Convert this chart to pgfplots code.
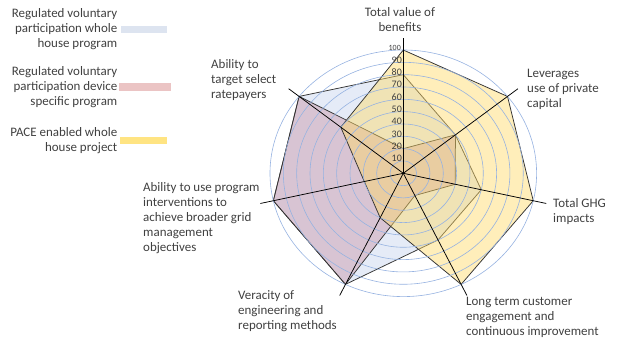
\documentclass[border=0pt]{standalone}
\usepackage{fontspec}
\setmainfont{Carlito}
\usepackage{pgfplots}
\usepackage{pgfplotstable}
\pgfplotsset{compat=1.18}
\definecolor{bluefill}{RGB}{180,199,231}
\definecolor{redfill}{RGB}{202,150,168}
\definecolor{yelfill}{RGB}{255,217,102}
\definecolor{gridc}{RGB}{150,178,225}
\definecolor{txt}{RGB}{64,64,64}
\definecolor{legblue}{RGB}{221,228,240}
\definecolor{legred}{RGB}{235,196,196}
\definecolor{legyel}{RGB}{255,228,130}
% k = spoke index clockwise from top
\pgfplotstableread{
k blue red pace
0 80 20 100
1 50 50 100
2 60 40 100
3 60 20 100
4 100 100 40
5 100 100 30
6 100 100 60
7 80 20 100
}\radardata
\newcommand{\cx}{403.3}
\newcommand{\cy}{172.7}
\begin{document}
\begin{tikzpicture}
\useasboundingbox (0,0) rectangle (619bp,346bp);
\begin{axis}[x=1bp,y=1bp,xmin=0,xmax=619,ymin=0,ymax=346,hide axis,clip=false,anchor=origin,at={(0,0)}]
\addplot[draw=black!80, line width=0.75bp, fill=bluefill, fill opacity=0.35]
  table[x expr={\cx+1.333*\thisrow{blue}*cos(90-51.428571*\thisrow{k})},
        y expr={\cy+1.233*\thisrow{blue}*sin(90-51.428571*\thisrow{k})}]{\radardata};
\addplot[draw=black!80, line width=0.75bp, fill=redfill, fill opacity=0.45]
  table[x expr={\cx+1.333*\thisrow{red}*cos(90-51.428571*\thisrow{k})},
        y expr={\cy+1.233*\thisrow{red}*sin(90-51.428571*\thisrow{k})}]{\radardata};
\addplot[draw=black!80, line width=0.75bp, fill=yelfill, fill opacity=0.45]
  table[x expr={\cx+1.333*\thisrow{pace}*cos(90-51.428571*\thisrow{k})},
        y expr={\cy+1.233*\thisrow{pace}*sin(90-51.428571*\thisrow{k})}]{\radardata};
\end{axis}
% grid circles
\foreach \v in {10,20,...,100}
  \draw[gridc, line width=0.6bp] (\cx bp,\cy bp) ellipse [x radius={1.333bp*\v}, y radius={1.233bp*\v}];
% spokes
\foreach \k in {0,...,6}{
  \pgfmathsetmacro\ang{90-360/7*\k}
  \draw[black, line width=0.75bp] (\cx bp,\cy bp) -- ++({cos(\ang)*1.333bp*110},{sin(\ang)*1.233bp*110});
}
% tick labels
\foreach \v in {10,20,...,90}
  \node[anchor=east, inner sep=0pt, text=txt, font=\fontsize{10}{12}\selectfont] at (402bp,{(\cy+1.233*\v+2.5)*1bp}) {\v};
\node[anchor=east, inner sep=0pt, text=txt, font=\fontsize{8}{10}\selectfont] at (401bp,{(\cy+1.233*100+2.5)*1bp}) {100};
% category labels
\begin{scope}[every node/.style={inner sep=0pt, text=txt, font=\fontsize{13}{15}\selectfont}]
\node[anchor=center, align=center] at (400bp,326.5bp) {Total value of\\benefits};
\node[anchor=west, align=left] at (527bp,257bp) {Leverages\\use of private\\capital};
\node[anchor=west, align=left] at (553bp,134.5bp) {Total GHG\\impacts};
\node[anchor=west, align=left] at (466bp,28.7bp) {Long term customer\\engagement  and\\continuous improvement};
\node[anchor=west, align=left] at (238bp,34.7bp) {Veracity of\\engineering and\\reporting methods};
\node[anchor=west, align=left] at (143bp,127.7bp) {Ability to use program\\interventions to\\achieve broader grid\\management\\objectives};
\node[anchor=west, align=left] at (211bp,266bp) {Ability to\\target select\\ratepayers};
% legend
\node[anchor=east, align=right] at (117.5bp,316.8bp) {Regulated voluntary\\participation whole\\house program};
\node[anchor=east, align=right] at (117.5bp,259.3bp) {Regulated voluntary\\participation device\\specific program};
\node[anchor=east, align=right] at (117.5bp,205bp) {PACE enabled whole\\house project};
\end{scope}
\fill[legblue] (120.7bp,312.7bp) rectangle (166.7bp,320bp);
\fill[legred] (119.3bp,255.3bp) rectangle (171bp,262.7bp);
\fill[legyel] (120bp,201.7bp) rectangle (166.7bp,209.3bp);
\end{tikzpicture}
\end{document}
